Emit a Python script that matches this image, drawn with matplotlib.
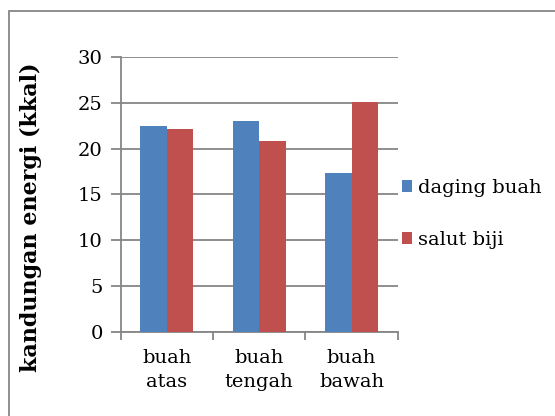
import numpy as np
import matplotlib
matplotlib.use('Agg')
import matplotlib.pyplot as plt
from matplotlib.patches import Rectangle

categories = ['buah\natas', 'buah\ntengah', 'buah\nbawah']
daging_buah = [22.5, 23.0, 17.3]
salut_biji = [22.1, 20.8, 25.1]
series_names = ['daging buah', 'salut biji']

plt.rcParams['font.family'] = ['DejaVu Serif']

W, H = 555, 416
fig = plt.figure(figsize=(W / 100, H / 100), dpi=100)
# plot area in pixel coordinates
left, right, top, bottom = 120.7, 397.7, 56.7, 332.3
ax = fig.add_axes([left / W, 1 - bottom / H, (right - left) / W, (bottom - top) / H])

grey = '#868686'
fs = 14
x = np.arange(len(categories))
bw = 0.2857
ax.bar(x - bw / 2, daging_buah, bw, color='#4F81BD', label=series_names[0], zorder=3)
ax.bar(x + bw / 2, salut_biji, bw, color='#C0504D', label=series_names[1], zorder=3)

ax.set_xlim(-0.5, len(categories) - 0.5)
ax.set_ylim(0, 30)
ax.set_yticks(range(0, 31, 5))
ax.yaxis.grid(True, color=grey, lw=1.3, zorder=0)
ax.set_axisbelow(True)

ax.set_xticks(np.arange(-0.5, len(categories), 1.0))
ax.set_xticklabels([])
ax.set_xticks(x, minor=True)
ax.set_xticklabels(categories, minor=True, fontsize=fs, linespacing=1.42)
ax.tick_params(axis='x', which='minor', length=0, pad=12)
ax.tick_params(axis='x', which='major', length=6, width=1.3, color=grey)
ax.tick_params(axis='y', length=7, width=1.3, color=grey, labelsize=fs, pad=6)

for s in ['top', 'right']:
    ax.spines[s].set_visible(False)
for s in ['left', 'bottom']:
    ax.spines[s].set_color(grey)
    ax.spines[s].set_linewidth(1.3)

ax.set_ylabel('kandungan energi (kkal)', fontsize=16, fontweight='bold')
ax.yaxis.set_label_coords(-0.284, 0.418)

ax.legend(loc='center left', bbox_to_anchor=(1.0, 0.43), frameon=False,
          fontsize=fs, handlelength=0.55, handleheight=0.55, handletextpad=0.3,
          labelspacing=1.75, borderaxespad=0.0, borderpad=0.2)

# chart border (only left/top visible in the crop)
fig.patches.append(Rectangle((8.5 / W, -0.1), 1.2, 1.1 - 10.5 / H,
                             transform=fig.transFigure, fill=False,
                             edgecolor=grey, lw=1.3))

fig.savefig('out.png', dpi=100)
